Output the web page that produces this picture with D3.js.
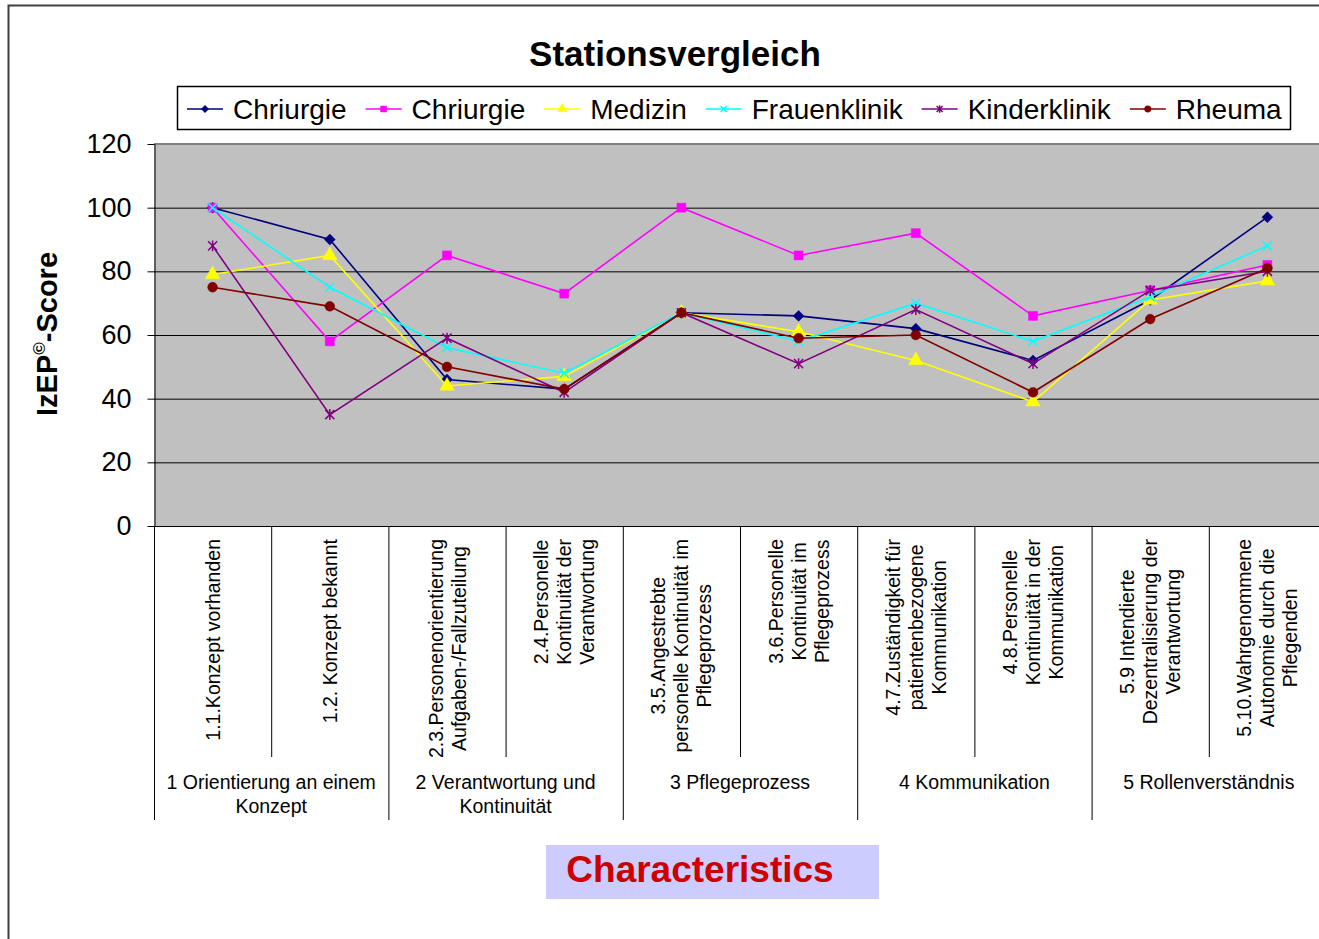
<!DOCTYPE html>
<html>
<head>
<meta charset="utf-8">
<script src="https://cdn.jsdelivr.net/npm/d3@7"></script>
<style>
body { margin: 0; background: #fff; }
text { font-family: "Liberation Sans", Arial, sans-serif; }
</style>
</head>
<body>
<script>
// categories, one entry of lines per category
var categories = [
	["1.1.Konzept vorhanden"],
	["1.2. Konzept bekannt"],
	["2.3.Personenorientierung", "Aufgaben-/Fallzuteilung"],
	["2.4.Personelle", "Kontinuität der", "Verantwortung"],
	["3.5.Angestrebte", "personelle Kontinuität im", "Pflegeprozess"],
	["3.6.Personelle", "Kontinuität im", "Pflegeprozess"],
	["4.7.Zuständigkeit für", "patientenbezogene", "Kommunikation"],
	["4.8.Personelle", "Kontinuität in der", "Kommunikation"],
	["5.9 Intendierte", "Dezentralisierung der", "Verantwortung"],
	["5.10.Wahrgenommene", "Autonomie durch die", "Pflegenden"]
];
var categoryGroup = [0, 0, 1, 1, 2, 2, 3, 3, 4, 4];
var groups = [
	["1 Orientierung an einem", "Konzept"],
	["2 Verantwortung und", "Kontinuität"],
	["3 Pflegeprozess"],
	["4 Kommunikation"],
	["5 Rollenverständnis"]
];

// series values
var seriesNames = ["Chriurgie", "Chriurgie", "Medizin", "Frauenklinik", "Kinderklinik", "Rheuma"];
var chriurgieA =   [100, 90, 46, 43, 67, 66, 62, 52, 71, 97];
var chriurgieB =   [100, 58, 85, 73, 100, 85, 92, 66, 74, 82];
var medizin =      [79, 85, 44, 47, 67, 61, 52, 39, 71, 77];
var frauenklinik = [100, 75, 56, 48, 67, 58, 70, 58, 72, 88];
var kinderklinik = [88, 35, 59, 42, 67, 51, 68, 51, 74, 80];
var rheuma =       [75, 69, 50, 43, 67, 59, 60, 42, 65, 81];
var seriesValues = [chriurgieA, chriurgieB, medizin, frauenklinik, kinderklinik, rheuma];

// tick labels
var yTicks = [0, 20, 40, 60, 80, 100, 120];

// styles
var colors = ["#000080", "#FF00FF", "#FFFF00", "#00FFFF", "#800080", "#800000"];
var markers = ["diamond", "square", "triangle", "x", "star", "circle"];

var W = 1319, H = 939;
var plot = {left: 154, top: 144, right: 1326, bottom: 526};

var svg = d3.select("body").append("svg")
	.attr("width", W)
	.attr("height", H);

svg.append("rect")
	.attr("width", W)
	.attr("height", H)
	.attr("fill", "#fff");

// outer chart frame
svg.append("path")
	.attr("d", "M8.5," + H + "V5.5H" + W)
	.attr("fill", "none")
	.attr("stroke", "#404040")
	.attr("stroke-width", 2);

// scales
var x = d3.scaleBand()
	.domain(d3.range(categories.length))
	.range([plot.left, plot.right])
	.padding(0);
var y = d3.scaleLinear()
	.domain([0, 120])
	.range([plot.bottom, plot.top]);
function cx(i) { return x(i) + x.bandwidth() / 2; }

// plot background
svg.append("rect")
	.attr("x", plot.left)
	.attr("y", plot.top)
	.attr("width", plot.right - plot.left)
	.attr("height", plot.bottom - plot.top)
	.attr("fill", "#C0C0C0");

// gridlines
svg.selectAll("line.grid")
	.data(yTicks.filter(function(d) { return d > 0 && d < 120; }))
	.enter().append("line")
	.attr("class", "grid")
	.attr("x1", plot.left)
	.attr("x2", plot.right)
	.attr("y1", function(d) { return y(d) + 0.5; })
	.attr("y2", function(d) { return y(d) + 0.5; })
	.attr("stroke", "#000")
	.attr("stroke-width", 1);

svg.append("line")
	.attr("x1", plot.left)
	.attr("x2", plot.right)
	.attr("y1", y(120))
	.attr("y2", y(120))
	.attr("stroke", "#808080")
	.attr("stroke-width", 2);

// y axis
var yAxis = svg.append("g")
	.attr("transform", "translate(" + (plot.left + 0.5) + ",0)")
	.call(d3.axisLeft(y).tickValues(yTicks).tickSize(7).tickSizeOuter(0).tickPadding(16));
yAxis.select(".domain").attr("stroke", "#000");
yAxis.selectAll(".tick line").attr("stroke", "#000");
yAxis.selectAll(".tick text")
	.attr("font-size", 27)
	.attr("font-family", "'Liberation Sans', Arial, sans-serif")
	.attr("fill", "#000");

// x axis line
svg.append("line")
	.attr("x1", plot.left)
	.attr("x2", plot.right)
	.attr("y1", plot.bottom + 0.5)
	.attr("y2", plot.bottom + 0.5)
	.attr("stroke", "#000");

// category separators, longer at group boundaries
for (var i = 0; i <= categories.length; i++) {
	var bx = i < categories.length ? x(i) : plot.right;
	var isGroupEdge = i == 0 || i == categories.length || categoryGroup[i] != categoryGroup[i - 1];
	svg.append("line")
		.attr("x1", bx + 0.5)
		.attr("x2", bx + 0.5)
		.attr("y1", plot.bottom)
		.attr("y2", isGroupEdge ? 820 : 757)
		.attr("stroke", "#000");
}

// rotated category labels, top aligned, lines centred
var labelTop = 539, lineH = 23;
categories.forEach(function(lines, i) {
	var t = svg.append("text")
		.attr("font-size", 19.5)
		.attr("text-anchor", "middle")
		.attr("fill", "#000");
	lines.forEach(function(line, j) {
		t.append("tspan")
			.attr("x", 0)
			.attr("y", (j - (lines.length - 1) / 2) * lineH + 7)
			.text(line);
	});
	var maxLen = 0;
	t.selectAll("tspan").each(function() {
		maxLen = Math.max(maxLen, this.getComputedTextLength());
	});
	t.attr("transform", "translate(" + cx(i) + "," + (labelTop + maxLen / 2) + ") rotate(-90)");
});

// group labels
groups.forEach(function(lines, g) {
	var idx = d3.range(categories.length).filter(function(k) { return categoryGroup[k] == g; });
	var gx = (x(idx[0]) + x(idx[idx.length - 1]) + x.bandwidth()) / 2;
	var t = svg.append("text")
		.attr("font-size", 19.5)
		.attr("text-anchor", "middle")
		.attr("fill", "#000");
	lines.forEach(function(line, j) {
		t.append("tspan")
			.attr("x", gx)
			.attr("y", 789 + j * 24)
			.text(line);
	});
});

// marker shapes
function markerPath(type, s) {
	var r = s * 1.9;
	if (type == "diamond") {
		var d = r * 1.2;
		return "M0," + (-d) + "L" + d + ",0L0," + d + "L" + (-d) + ",0Z";
	}
	if (type == "square") return d3.symbol(d3.symbolSquare, 14 * s * s)();
	if (type == "triangle") return d3.symbol(d3.symbolTriangle, 16 * s * s)();
	if (type == "circle") return d3.symbol(d3.symbolCircle, 13 * s * s)();
	var p = "M" + (-r) + "," + (-r) + "L" + r + "," + r + "M" + (-r) + "," + r + "L" + r + "," + (-r);
	if (type == "star") p += "M0," + (-r * 1.2) + "L0," + (r * 1.2);
	return p;
}
function drawMarker(sel, type, color, s) {
	var open = type == "x" || type == "star";
	sel.append("path")
		.attr("d", markerPath(type, s))
		.attr("fill", open ? "none" : color)
		.attr("stroke", color)
		.attr("stroke-width", open ? 1.5 : 0.5);
}

// series lines and markers
var line = d3.line()
	.x(function(d, i) { return cx(i); })
	.y(function(d) { return y(d); });

seriesValues.forEach(function(vals, s) {
	svg.append("path")
		.datum(vals)
		.attr("d", line)
		.attr("fill", "none")
		.attr("stroke", colors[s])
		.attr("stroke-width", 1.6);
	vals.forEach(function(v, i) {
		var g = svg.append("g")
			.attr("transform", "translate(" + cx(i) + "," + y(v) + ")");
		drawMarker(g, markers[s], colors[s], 2.4);
	});
});

// title
svg.append("text")
	.attr("x", 675)
	.attr("y", 66)
	.attr("text-anchor", "middle")
	.attr("font-size", 35)
	.attr("font-weight", "bold")
	.attr("fill", "#000")
	.text("Stationsvergleich");

// legend
var legend = svg.append("g");
legend.append("rect")
	.attr("x", 177.5)
	.attr("y", 86.5)
	.attr("width", 1113)
	.attr("height", 43)
	.attr("fill", "#fff")
	.attr("stroke", "#000")
	.attr("stroke-width", 1.5);
var lx = 187;
seriesNames.forEach(function(name, s) {
	legend.append("line")
		.attr("x1", lx)
		.attr("x2", lx + 36)
		.attr("y1", 109)
		.attr("y2", 109)
		.attr("stroke", colors[s])
		.attr("stroke-width", 1.6);
	var g = legend.append("g")
		.attr("transform", "translate(" + (lx + 18) + ",109)");
	drawMarker(g, markers[s], colors[s], 1.6);
	var t = legend.append("text")
		.attr("x", lx + 46)
		.attr("y", 119)
		.attr("font-size", 28)
		.attr("fill", "#000")
		.text(name);
	lx += 46 + t.node().getComputedTextLength() + 19;
});

// y axis title
var yt = svg.append("text")
	.attr("transform", "translate(57,334) rotate(-90)")
	.attr("text-anchor", "middle")
	.attr("font-size", 29)
	.attr("font-weight", "bold")
	.attr("fill", "#000");
yt.append("tspan").text("IzEP");
yt.append("tspan").attr("font-size", 17).attr("dy", -12).text("©");
yt.append("tspan").attr("dy", 12).text("-Score");

// x axis title box
svg.append("rect")
	.attr("x", 546)
	.attr("y", 845)
	.attr("width", 333)
	.attr("height", 54)
	.attr("fill", "#CCCCFF");
svg.append("text")
	.attr("x", 700)
	.attr("y", 882)
	.attr("text-anchor", "middle")
	.attr("font-size", 37)
	.attr("font-weight", "bold")
	.attr("fill", "#CC0000")
	.text("Characteristics");
</script>
</body>
</html>
